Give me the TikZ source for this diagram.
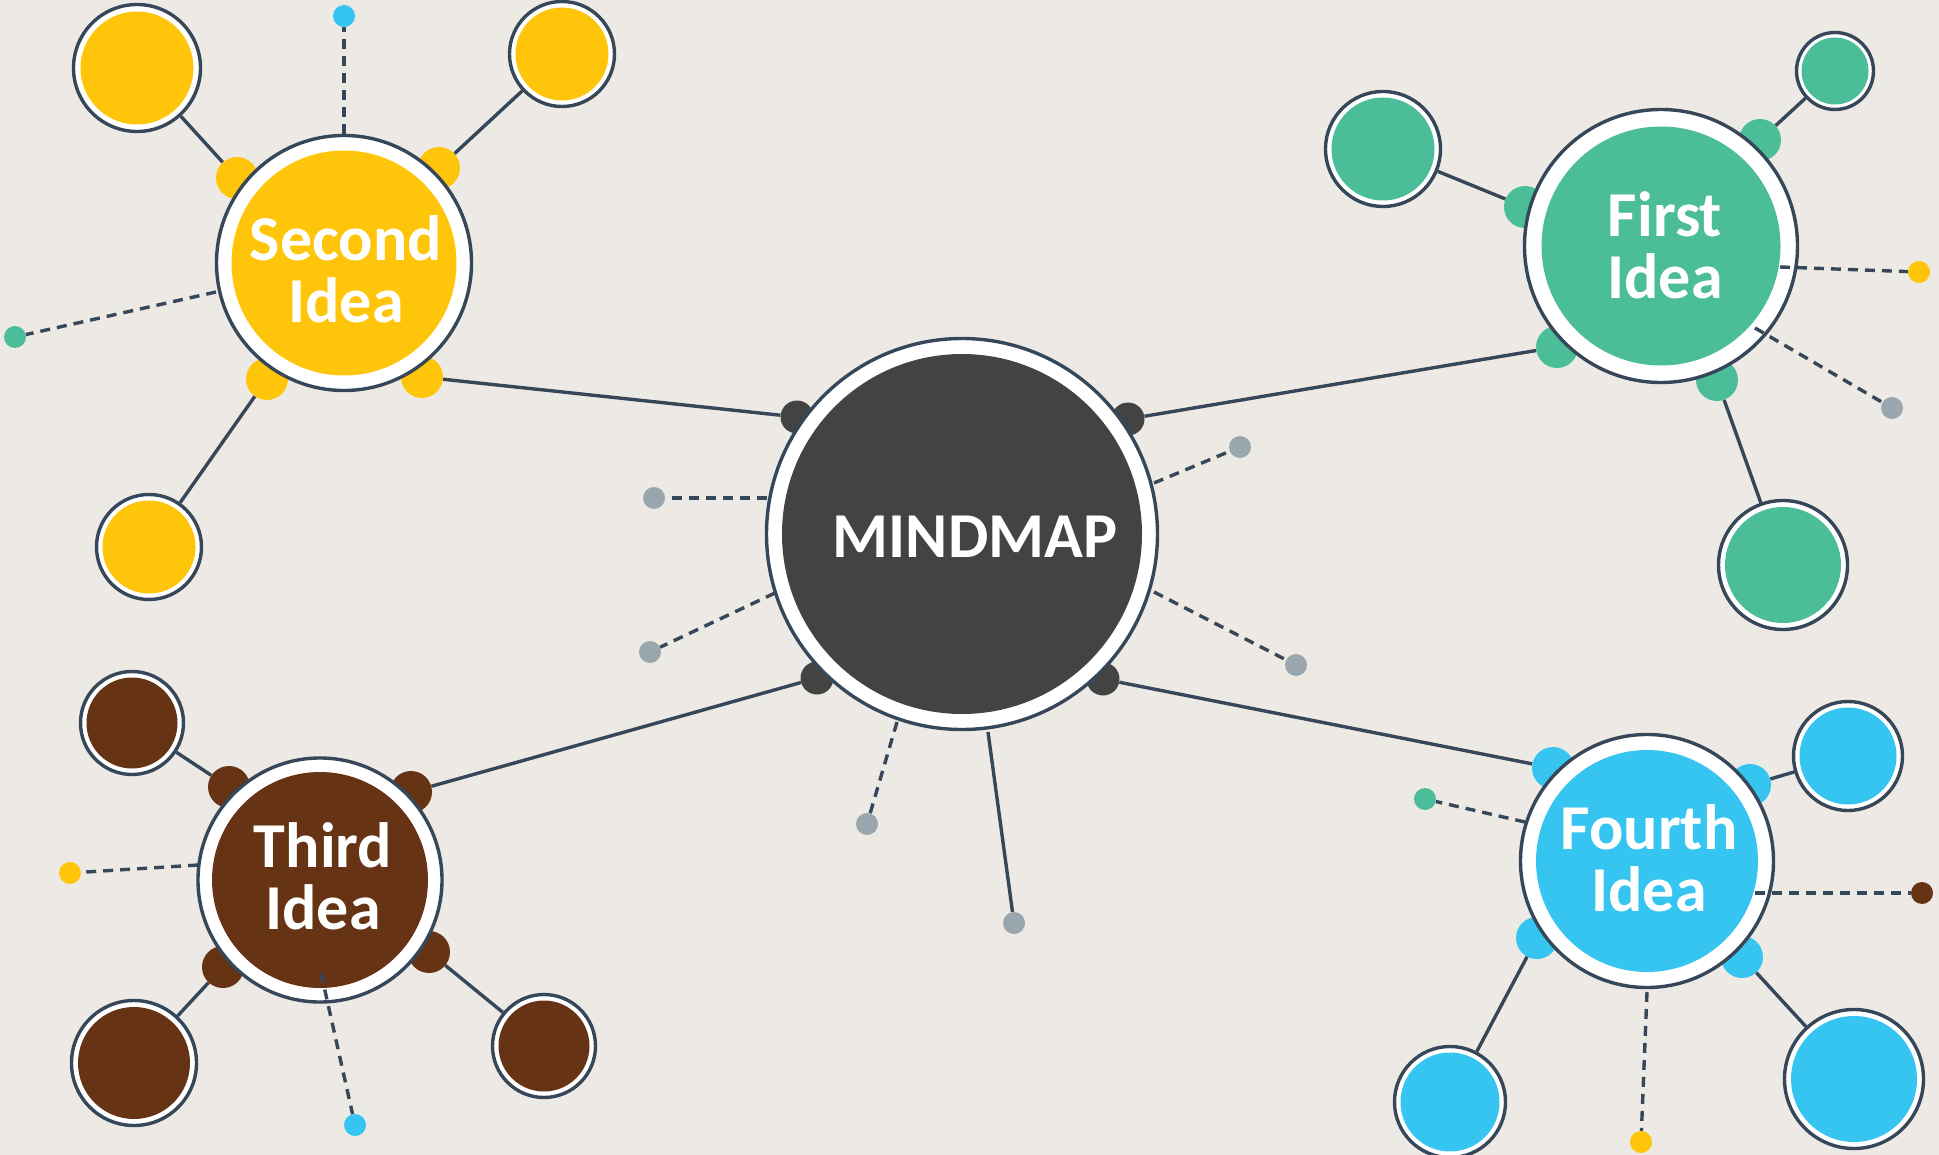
\documentclass[tikz,border=0pt]{standalone}
\usepackage{fontspec}
\setmainfont{Carlito}
\usetikzlibrary{calc}
\definecolor{paperbg}{HTML}{EDEAE6}
\definecolor{slate}{HTML}{36475A}
\definecolor{darkc}{HTML}{434343}
\definecolor{yel}{HTML}{FFC50B}
\definecolor{grn}{HTML}{4BBD98}
\definecolor{blu}{HTML}{36C5F0}
\definecolor{brn}{HTML}{663314}
\definecolor{gry}{HTML}{9AA6AE}
\pgfdeclarelayer{paper}
\pgfdeclarelayer{links}
\pgfsetlayers{paper,links,main}
\begin{document}
\begin{tikzpicture}[x=1pt,y=-1pt,
  ring/.style={circle, draw=slate, line width=3.4pt, fill=white, inner sep=0pt},
  core/.style={circle, draw=none, inner sep=0pt},
  knob/.style={circle, draw=none, inner sep=0pt, minimum size=42pt},
  cknob/.style={circle, draw=none, inner sep=0pt, fill=darkc, minimum size=33pt},
  dotc/.style={circle, draw=none, inner sep=0pt, minimum size=22pt},
  link/.style={draw=slate, line width=3.4pt},
  dlink/.style={draw=slate, line width=3.4pt, dash pattern=on 10pt off 7pt},
  ideatext/.style={text=white, inner sep=0pt, align=center, font=\fontsize{64}{62}\selectfont\bfseries}
]
\begin{pgfonlayer}{paper}
\fill[paperbg] (0,0) rectangle (1939,1155);
\end{pgfonlayer}
\useasboundingbox (0,0) rectangle (1939,1155);

% ---------- knobs (behind the big circles) ----------
\node[cknob] (kc1) at (797,417) {};
\node[cknob] (kc2) at (1128,419) {};
\node[cknob] (kc3) at (817,678) {};
\node[cknob] (kc4) at (1103,679) {};

\node[knob, fill=yel] (k2a) at (237,178) {};
\node[knob, fill=yel] (k2b) at (439,168) {};
\node[knob, fill=yel] (k2c) at (267,379) {};
\node[knob, fill=yel] (k2d) at (422,377) {};

\node[knob, fill=grn] (k1a) at (1525,207) {};
\node[knob, fill=grn] (k1b) at (1760,140) {};
\node[knob, fill=grn] (k1c) at (1557,347) {};
\node[knob, fill=grn] (k1d) at (1717,380) {};

\node[knob, fill=blu] (k4a) at (1553,768) {};
\node[knob, fill=blu] (k4b) at (1750,785) {};
\node[knob, fill=blu] (k4c) at (1537,938) {};
\node[knob, fill=blu] (k4d) at (1742,957) {};

\node[knob, fill=brn] (k3a) at (229,787) {};
\node[knob, fill=brn] (k3b) at (411,792) {};
\node[knob, fill=brn] (k3c) at (223,967) {};
\node[knob, fill=brn] (k3d) at (429,952) {};

% ---------- main circles ----------
\node[ring, minimum size=391pt] (cm) at (962,534) {};
\node[core, fill=darkc, minimum size=360pt] (cmin) at (cm) {};
\node[text=white, inner sep=0pt, anchor=base, font=\fontsize{64}{62}\selectfont\bfseries] (tm) at (975,557) {MINDMAP};

\node[ring, minimum size=255pt] (c2) at (344,263) {};
\node[core, fill=yel, minimum size=225pt] (c2in) at (c2) {};
\node[ideatext] (t2) at (346,269.5) {Second\\Idea};

\node[ring, minimum size=273pt] (c1) at (1661,246) {};
\node[core, fill=grn, minimum size=239pt] (c1in) at (c1) {};
\node[ideatext] (t1) at (1665,245.5) {First\\Idea};

\node[ring, minimum size=253pt] (c4) at (1647,861) {};
\node[core, fill=blu, minimum size=222pt] (c4in) at (c4) {};
\node[ideatext] (t4) at (1649,858.5) {Fourth\\Idea};

\node[ring, minimum size=244pt] (c3) at (320,880) {};
\node[core, fill=brn, minimum size=216pt] (c3in) at (c3) {};
\node[ideatext] (t3) at (323,876.5) {Third\\Idea};

% ---------- sub circles ----------
\node[ring, minimum size=127pt] (s2a) at (137,68) {};
\node[core, fill=yel, minimum size=113pt] (s2ain) at (s2a) {};
\node[ring, minimum size=105pt] (s2b) at (562,54) {};
\node[core, fill=yel, minimum size=93pt] (s2bin) at (s2b) {};
\node[ring, minimum size=105pt] (s2c) at (149,547) {};
\node[core, fill=yel, minimum size=93pt] (s2cin) at (s2c) {};

\node[ring, minimum size=115pt] (s1a) at (1383,149) {};
\node[core, fill=grn, minimum size=103pt] (s1ain) at (s1a) {};
\node[ring, minimum size=77pt] (s1b) at (1835,71) {};
\node[core, fill=grn, minimum size=67pt] (s1bin) at (s1b) {};
\node[ring, minimum size=129pt] (s1c) at (1783,565) {};
\node[core, fill=grn, minimum size=116pt] (s1cin) at (s1c) {};

\node[ring, minimum size=109pt] (s4a) at (1848,756) {};
\node[core, fill=blu, minimum size=97pt] (s4ain) at (s4a) {};
\node[ring, minimum size=139pt] (s4b) at (1854,1079) {};
\node[core, fill=blu, minimum size=126pt] (s4bin) at (s4b) {};
\node[ring, minimum size=111pt] (s4c) at (1450,1102) {};
\node[core, fill=blu, minimum size=99pt] (s4cin) at (s4c) {};

\node[ring, minimum size=103pt] (s3a) at (132,723) {};
\node[core, fill=brn, minimum size=91pt] (s3ain) at (s3a) {};
\node[ring, minimum size=125pt] (s3b) at (134,1063) {};
\node[core, fill=brn, minimum size=112pt] (s3bin) at (s3b) {};
\node[ring, minimum size=103pt] (s3c) at (544,1046) {};
\node[core, fill=brn, minimum size=91pt] (s3cin) at (s3c) {};

% ---------- end dots ----------
\node[dotc, fill=gry] (g1) at (654,498) {};
\node[dotc, fill=gry] (g2) at (650,652) {};
\node[dotc, fill=gry] (g3) at (867,824) {};
\node[dotc, fill=gry] (g4) at (1014,923) {};
\node[dotc, fill=gry] (g5) at (1240,447) {};
\node[dotc, fill=gry] (g6) at (1296,665) {};
\node[dotc, fill=blu] (e2a) at (344,16) {};
\node[dotc, fill=grn] (e2b) at (15,337) {};
\node[dotc, fill=yel] (e1a) at (1919,272) {};
\node[dotc, fill=gry] (e1b) at (1892,408) {};
\node[dotc, fill=brn] (e4a) at (1922,893) {};
\node[dotc, fill=yel] (e4b) at (1641,1142) {};
\node[dotc, fill=grn] (e4c) at (1425,799) {};
\node[dotc, fill=yel] (e3a) at (70,873) {};
\node[dotc, fill=blu] (e3b) at (355,1125) {};

% ---------- start points of the spokes ----------
\coordinate (p1) at (767,498);
\coordinate (p2) at (775,593);
\coordinate (p3) at (897,722);
\coordinate (p4) at (988,732);
\coordinate (p5) at (1154,483);
\coordinate (p6) at (1154,592);
\coordinate (q2a) at (344,134);
\coordinate (q2b) at (216,292);
\coordinate (q1a) at (1780,267);
\coordinate (q1b) at (1755,328);
\coordinate (q4a) at (1755,893);
\coordinate (q4b) at (1647,992);
\coordinate (q4c) at (1525,822);
\coordinate (q3a) at (198,865);
\coordinate (q3b) at (321,973);

\draw[dlink] (p1) -- (g1);
\draw[dlink] (p2) -- (g2);
\draw[dlink] (p3) -- (g3);
\draw[link]  (p4) -- (g4);
\draw[dlink] (p5) -- (g5);
\draw[dlink] (p6) -- (g6);
\draw[dlink] (q2a) -- (e2a);
\draw[dlink] (q2b) -- (e2b);
\draw[dlink] (q1a) -- (e1a);
\draw[dlink] (q1b) -- (e1b);
\draw[dlink] (q4a) -- (e4a);
\draw[dlink] (q4b) -- (e4b);
\draw[dlink] (q4c) -- (e4c);
\draw[dlink] (q3a) -- (e3a);
\draw[dlink] (q3b) -- (e3b);

% ---------- solid connectors (under everything) ----------
\begin{pgfonlayer}{links}
\draw[link] (kc1) -- (k2d);
\draw[link] (kc2) -- (k1c);
\draw[link] (kc3) -- (k3b);
\draw[link] (kc4) -- (k4a);
\draw[link] (k2a) -- (s2a);
\draw[link] (k2b) -- (s2b);
\draw[link] (k2c) -- (s2c);
\draw[link] (k1a) -- (s1a);
\draw[link] (k1b) -- (s1b);
\draw[link] (k1d) -- (s1c);
\draw[link] (k4b) -- (s4a);
\draw[link] (k4d) -- (s4b);
\draw[link] (k4c) -- (s4c);
\draw[link] (k3a) -- (s3a);
\draw[link] (k3c) -- (s3b);
\draw[link] (k3d) -- (s3c);
\end{pgfonlayer}
\end{tikzpicture}
\end{document}
